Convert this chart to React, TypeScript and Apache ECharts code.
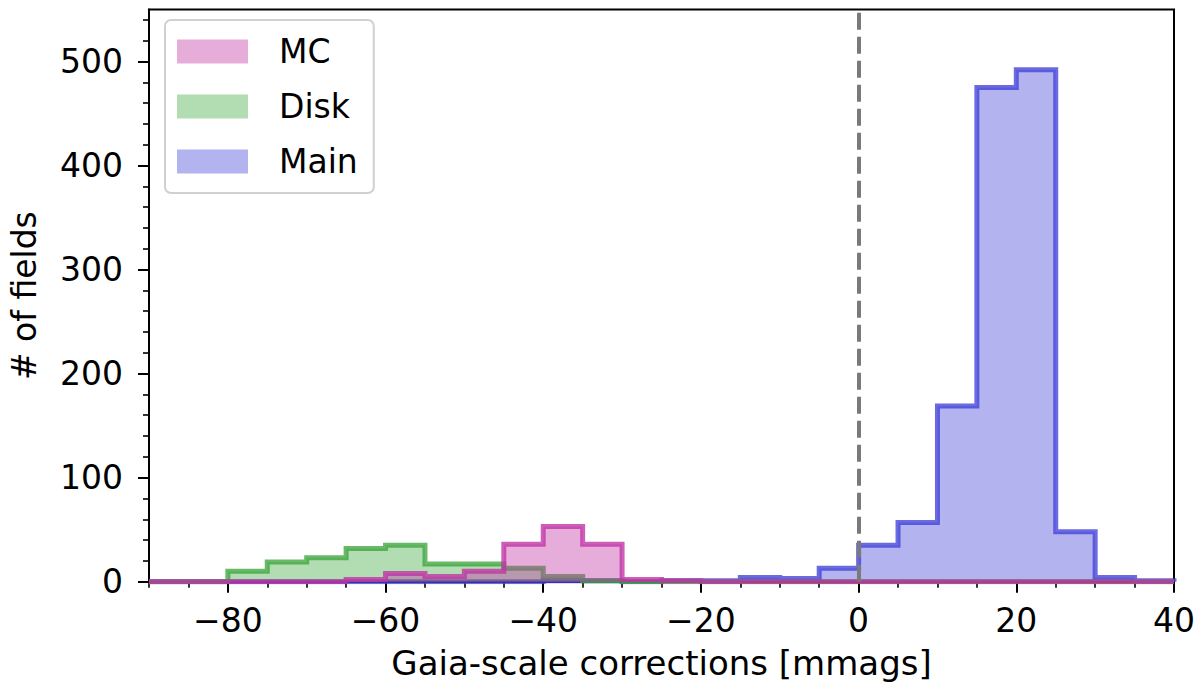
import React, { useEffect, useRef } from "react";
import * as echarts from "echarts";

// Histogram bin edges (mmag), 5-mmag bins
const binEdges = [
  -90, -85, -80, -75, -70, -65, -60, -55, -50, -45, -40, -35, -30, -25,
  -20, -15, -10, -5, 0, 5, 10, 15, 20, 25, 30, 35, 40,
];
// Counts per bin (26 bins)
const mcCounts = [0, 0, 0, 0, 0, 2, 8, 5, 10, 36, 53, 36, 2, 1, 0, 0, 0, 0, 0, 0, 0, 0, 0, 0, 0, 0];
const diskCounts = [0, 0, 10, 19, 23, 32, 35, 17, 17, 13, 5, 1, 0, 0, 0, 0, 0, 0, 0, 0, 0, 0, 0, 0, 0, 0];
const mainCounts = [0, 0, 0, 0, 0, 0, 0, 0, 0, 0, 1, 1, 0, 1, 1, 4, 3, 13, 35, 57, 169, 475, 492, 48, 4, 1];

const seriesNames = ["MC", "Disk", "Main"];
const xMajorTicks = [-80, -60, -40, -20, 0, 20, 40];
const yMajorTicks = [0, 100, 200, 300, 400, 500];
const yMinorTicks = [20, 40, 60, 80, 120, 140, 160, 180, 220, 240, 260, 280, 320, 340, 360, 380, 420, 440, 460, 480, 520, 540];
const verticalLineX = 0;

const FONT = "DejaVu Sans";
const FS_TICK = 33;
const FS_NAME = 34;
const FS_LEGEND = 33;

const baseColors: Record<string, [number, number, number]> = {
  MC: [192, 50, 165],
  Disk: [62, 167, 62],
  Main: [65, 65, 217],
};
// drawing order: Main at the bottom, MC on top
const zOrder: Record<string, number> = { Main: 2, Disk: 3, MC: 4 };
const rgba = (c: [number, number, number], a: number) => `rgba(${c[0]},${c[1]},${c[2]},${a})`;

function stepPoints(counts: number[]) {
  const pts: number[][] = [[binEdges[0], 0]];
  counts.forEach((c, i) => pts.push([binEdges[i], c]));
  const last = binEdges[binEdges.length - 1];
  pts.push([last, counts[counts.length - 1]]);
  pts.push([last, 0]);
  return pts;
}

export default function App() {
  const ref = useRef<HTMLDivElement>(null);
  useEffect(() => {
    if (!ref.current) return;
    const chart = echarts.init(ref.current, undefined, { renderer: "svg" });
    const countsBy: Record<string, number[]> = { MC: mcCounts, Disk: diskCounts, Main: mainCounts };
    const series: any[] = seriesNames.map((name) => ({
      type: "line",
      name,
      step: "end",
      symbol: "none",
      showSymbol: false,
      clip: true,
      data: stepPoints(countsBy[name]),
      lineStyle: { color: rgba(baseColors[name], 0.78), width: 5, join: "miter" },
      itemStyle: { color: rgba(baseColors[name], 0.4) },
      areaStyle: { color: rgba(baseColors[name], 0.4), opacity: 1 },
      z: zOrder[name],
    }));
    series.push({
      type: "line",
      name: "zero",
      data: [],
      symbol: "none",
      z: 10,
      markLine: {
        silent: true,
        symbol: ["none", "none"],
        label: { show: false },
        lineStyle: { color: "#7a7a7a", width: 4, type: [17, 7], opacity: 1 },
        data: [{ xAxis: verticalLineX }],
      },
    });

    const axisLineStyle = { color: "#000", width: 2 };
    const minorStyle = { color: "#000", width: 1.6 };
    chart.setOption({
      animation: false,
      backgroundColor: "#fff",
      textStyle: { fontFamily: FONT },
      grid: {
        left: 147,
        right: 26,
        top: 9.5,
        bottom: 114.3,
        show: true,
        borderColor: "#000",
        borderWidth: 2,
        backgroundColor: "transparent",
      },
      legend: {
        orient: "vertical",
        left: 165,
        top: 20,
        itemWidth: 71,
        itemHeight: 24,
        itemGap: 22,
        padding: [15, 16, 15, 12],
        borderColor: "#d0d0d0",
        borderWidth: 2,
        borderRadius: 6,
        backgroundColor: "#fff",
        selectedMode: false,
        textStyle: { fontSize: FS_LEGEND, color: "#000", fontFamily: FONT, padding: [0, 0, 0, 26] },
        data: seriesNames.map((n) => ({
          name: n,
          icon: "rect",
          itemStyle: { color: rgba(baseColors[n], 0.4), borderWidth: 0 },
        })),
      },
      xAxis: [
        {
          type: "value",
          min: -90,
          max: 40,
          position: "bottom",
          name: "Gaia-scale corrections [mmags]",
          nameLocation: "middle",
          nameGap: 64,
          nameTextStyle: { fontSize: FS_NAME, color: "#000", fontFamily: FONT },
          axisLine: { show: true, onZero: false, lineStyle: axisLineStyle },
          axisTick: { show: true, length: 11, customValues: xMajorTicks, lineStyle: axisLineStyle },
          axisLabel: {
            show: true,
            customValues: xMajorTicks,
            fontSize: FS_TICK,
            color: "#000",
            fontFamily: FONT,
            margin: 22,
            formatter: (v: number) => String(v).replace("-", "\u2212"),
          },
          splitLine: { show: false },
        },
        {
          type: "value",
          min: -90,
          max: 40,
          interval: 5,
          position: "bottom",
          axisLine: { show: false, onZero: false },
          axisTick: { show: true, length: 6, lineStyle: minorStyle },
          axisLabel: { show: false },
          splitLine: { show: false },
        },
      ],
      yAxis: [
        {
          type: "value",
          min: 0,
          max: 550,
          position: "left",
          name: "# of fields",
          nameLocation: "middle",
          nameGap: 108,
          nameTextStyle: { fontSize: FS_NAME - 1, color: "#000", fontFamily: FONT },
          axisLine: { show: true, onZero: false, lineStyle: axisLineStyle },
          axisTick: { show: true, length: 11, customValues: yMajorTicks, lineStyle: axisLineStyle },
          axisLabel: {
            show: true,
            customValues: yMajorTicks,
            fontSize: FS_TICK,
            color: "#000",
            fontFamily: FONT,
            margin: 26,
          },
          splitLine: { show: false },
        },
        {
          type: "value",
          min: 0,
          max: 550,
          position: "left",
          axisLine: { show: false, onZero: false },
          axisTick: { show: true, length: 6, customValues: yMinorTicks, lineStyle: minorStyle },
          axisLabel: { show: false },
          splitLine: { show: false },
        },
      ],
      series,
    });
    return () => chart.dispose();
  }, []);
  return <div ref={ref} style={{ position: "absolute", left: 0, top: 0, width: 1200, height: 696 }} />;
}
